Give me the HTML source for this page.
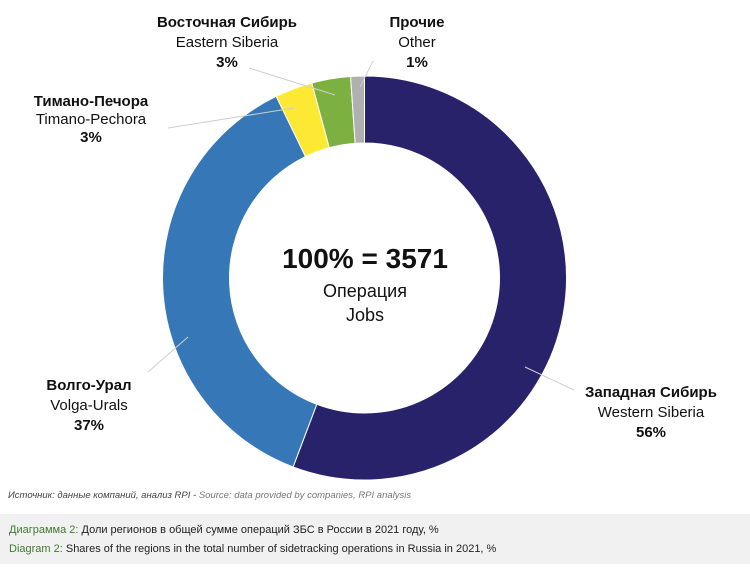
<!DOCTYPE html>
<html><head><meta charset="utf-8"><style>
body{margin:0;width:750px;height:568px;background:#fff;overflow:hidden;font-family:"Liberation Sans",sans-serif;}
svg text{font-family:"Liberation Sans","Noto Sans CJK SC",sans-serif;}
</style></head><body>
<svg width="750" height="568" viewBox="0 0 750 568" xmlns="http://www.w3.org/2000/svg">
<g id="donut"></g>
<g stroke="#cfcfcf" stroke-width="1">
<line x1="249" y1="68" x2="335" y2="95"/>
<line x1="360" y1="87" x2="373" y2="61"/>
<line x1="168" y1="128" x2="294" y2="108"/>
<line x1="148" y1="372" x2="188" y2="337"/>
<line x1="525" y1="367" x2="574" y2="390"/>
</g>
<g font-size="15" text-anchor="middle" fill="#111">
<text x="227" y="27" font-weight="bold">Восточная Сибирь</text>
<text x="227" y="47">Eastern Siberia</text>
<text x="227" y="67" font-weight="bold">3%</text>
<text x="417" y="27" font-weight="bold">Прочие</text>
<text x="417" y="47">Other</text>
<text x="417" y="67" font-weight="bold">1%</text>
<text x="91" y="106" font-weight="bold">Тимано-Печора</text>
<text x="91" y="124">Timano-Pechora</text>
<text x="91" y="142" font-weight="bold">3%</text>
<text x="89" y="390" font-weight="bold">Волго-Урал</text>
<text x="89" y="410">Volga-Urals</text>
<text x="89" y="430" font-weight="bold">37%</text>
<text x="651" y="397" font-weight="bold">Западная Сибирь</text>
<text x="651" y="417">Western Siberia</text>
<text x="651" y="437" font-weight="bold">56%</text>
<text x="365" y="268" font-size="28" font-weight="bold">100% = 3571</text>
<text x="365" y="297" font-size="18">Операция</text>
<text x="365" y="321" font-size="18">Jobs</text>
</g>
<text x="8" y="498" font-size="9.5" font-style="italic" fill="#444">Источник: данные компаний, анализ RPI - <tspan fill="#777">Source: data provided by companies, RPI analysis</tspan></text>
<rect x="0" y="514" width="750" height="50" fill="#f0f1f0"/>
<text x="9" y="533" font-size="11" fill="#222"><tspan fill="#3f7a2e">Диаграмма 2:</tspan> Доли регионов в общей сумме операций ЗБС в России в 2021 году, %</text>
<text x="9" y="552" font-size="11" fill="#222"><tspan fill="#3f7a2e">Diagram 2:</tspan> Shares of the regions in the total number of sidetracking operations in Russia in 2021, %</text>
</svg>
<script>
var cx=364.5,cy=278,R=202,r=135;
var segs=[[0,.5575,"#28226b"],[.5575,.928,"#3677b8"],[.928,.958,"#fde933"],[.958,.989,"#7cb142"],[.989,1,"#b0b0b0"]];
function pt(f,rad){var a=f*2*Math.PI;return [cx+rad*Math.sin(a),cy-rad*Math.cos(a)];}
var g=document.getElementById("donut"),h="";
segs.forEach(function(s){var a=pt(s[0],R),b=pt(s[1],R),c=pt(s[1],r),d=pt(s[0],r),l=(s[1]-s[0])>.5?1:0;
h+='<path d="M'+a+' A'+R+' '+R+' 0 '+l+' 1 '+b+' L'+c+' A'+r+' '+r+' 0 '+l+' 0 '+d+' Z" fill="'+s[2]+'" stroke="#fff" stroke-width="1"/>';});
g.innerHTML=h;
</script>
</body></html>
